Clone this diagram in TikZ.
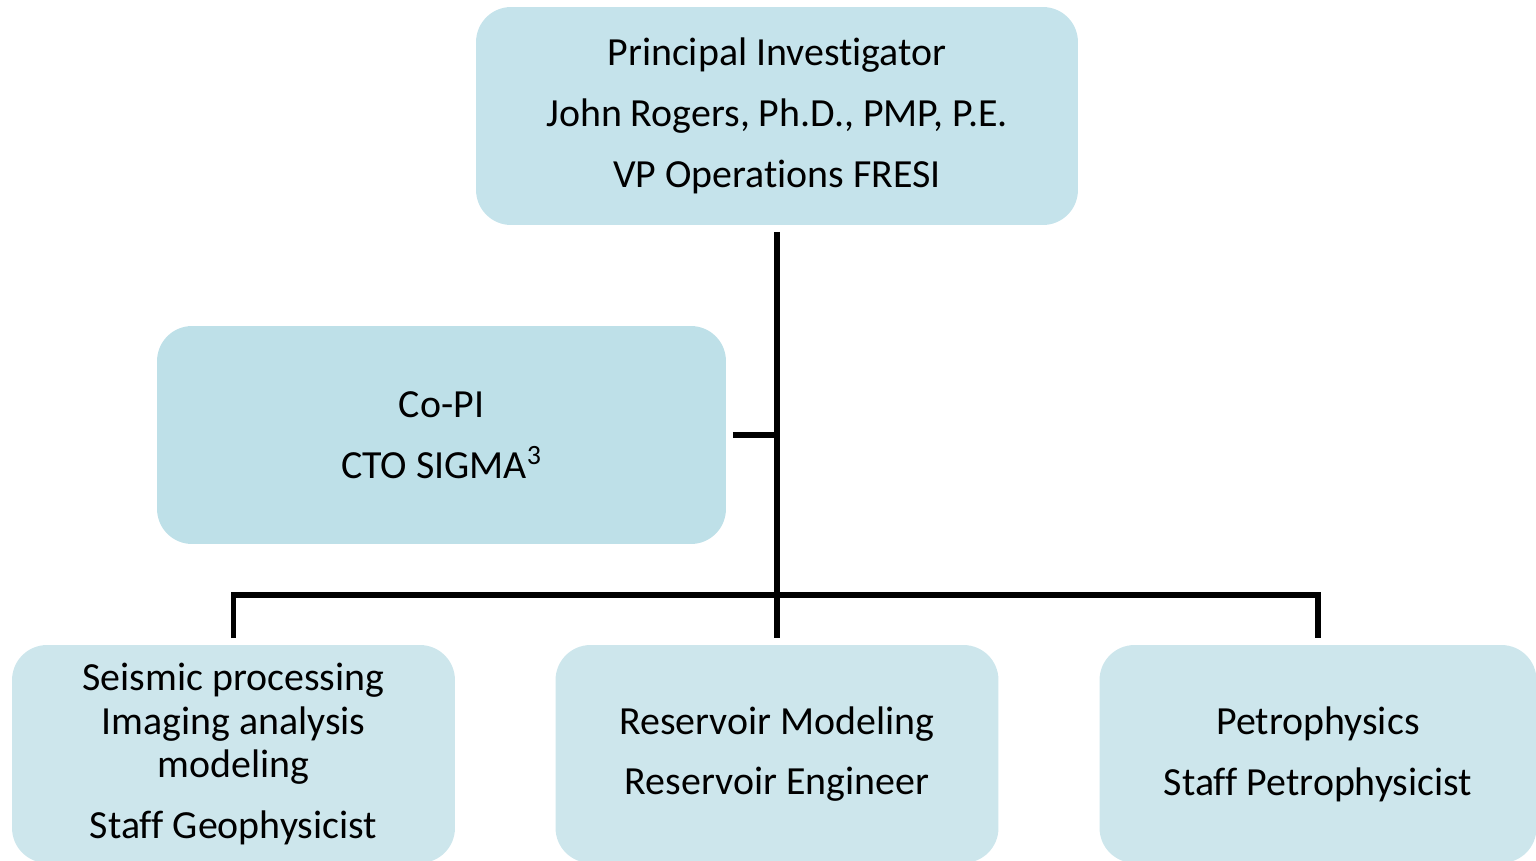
\documentclass[tikz,border=0pt]{standalone}
\usepackage{fontspec}
\setmainfont{Carlito}[Ligatures={NoCommon}]
\definecolor{topc}{RGB}{197,227,235}
\definecolor{copic}{RGB}{190,224,232}
\definecolor{botc}{RGB}{205,230,236}
\begin{document}
\begin{tikzpicture}[x=0.02cm,y=-0.02cm,
  box/.style={rounded corners=0.7cm, inner sep=0pt, outer sep=0pt, minimum height=4.36cm, align=center,
    font=\fontsize{22.7pt}{24.9pt}\selectfont, text=black},
  link/.style={draw=black, line width=3.1pt, line join=miter}]
\useasboundingbox (0,0) rectangle (1536,860);
\node[box, fill=topc, minimum width=12.04cm] (top) at (777,116)
  {Principal Investigator\\[0.34cm]John Rogers, Ph.D., PMP, P.E.\\[0.34cm]VP Operations FRESI};
\node[box, fill=copic, minimum width=11.38cm] (copi) at (441.5,435)
  {Co-PI\\[0.34cm]CTO SIGMA\textsuperscript{3}};
\node[box, fill=botc, minimum width=8.86cm] (left) at (233.5,754)
  {Seismic processing\\Imaging analysis\\modeling\\[0.34cm]Staff Geophysicist};
\node[box, fill=botc, minimum width=8.86cm] (mid) at (777,754)
  {Reservoir Modeling\\[0.34cm]Reservoir Engineer};
\node[box, fill=botc, minimum width=8.74cm] (right) at (1318,754)
  {Petrophysics\\[0.34cm]Staff Petrophysicist};
\coordinate (bar) at (777,595);
\draw[link] ([yshift=-0.14cm]top.south) -- ([yshift=0.14cm]mid.north);
\draw[link] ([xshift=0.14cm]copi.east) -- (copi.east -| top.south);
\draw[link] ([yshift=0.14cm]left.north) |- (bar) -| ([yshift=0.14cm]right.north);
\end{tikzpicture}
\end{document}
